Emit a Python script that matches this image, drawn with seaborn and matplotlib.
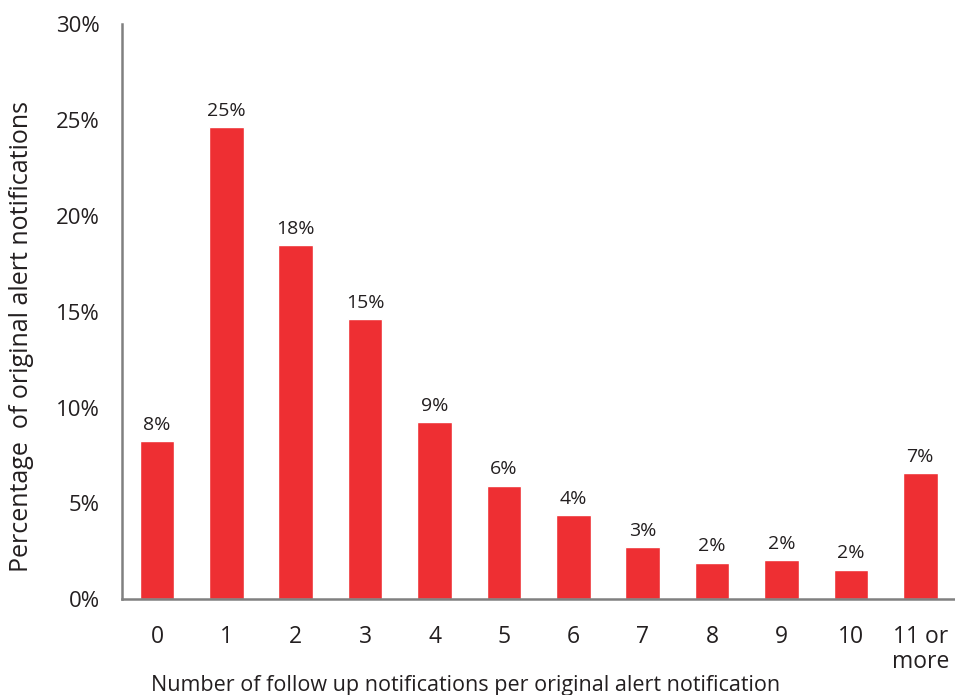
import matplotlib
matplotlib.use("Agg")
import matplotlib.pyplot as plt
import seaborn as sns
import pandas as pd

# Values
categories = ["0", "1", "2", "3", "4", "5", "6", "7", "8", "9", "10", "11 or\nmore"]
percentages = [8.24, 24.62, 18.47, 14.6, 9.23, 5.9, 4.38, 2.71, 1.88, 2.03, 1.51, 6.57]

df = pd.DataFrame({"followups": categories, "pct": percentages})

sns.set_style("white")
plt.rcParams["font.family"] = ["Open Sans", "DejaVu Sans"]

fig = plt.figure(figsize=(9.55, 6.95), dpi=100)
ax = fig.add_axes([0.128, 0.138, 0.872, 0.827])

sns.barplot(data=df, x="followups", y="pct", color="#EE2F33", saturation=1,
            width=0.5, ax=ax)

for i, v in enumerate(percentages):
    ax.text(i, v + 0.4, f"{v:.0f}%", ha="center", va="bottom", fontsize=14,
            color="#231F20")

ax.set_xlim(-0.5, 11.5)
ax.set_ylim(0, 30)
ax.set_yticks(range(0, 31, 5))
ax.set_yticklabels([f"{t}%" for t in range(0, 31, 5)])

for s in ["top", "right"]:
    ax.spines[s].set_visible(False)
for s in ["left", "bottom"]:
    ax.spines[s].set_color("#808080")
    ax.spines[s].set_linewidth(1.8)

ax.tick_params(axis="y", direction="in", length=6, width=1.5, color="#808080",
               labelsize=16, labelcolor="#231F20", pad=16)
ax.tick_params(axis="x", length=0, labelsize=16.5, labelcolor="#231F20", pad=19)
for lbl in ax.get_xticklabels():
    lbl.set_linespacing(1.05)

ax.set_xlabel("Number of follow up notifications per original alert notification",
              fontsize=15.5, color="#231F20")
ax.xaxis.set_label_coords(0.412, -0.132)
ax.set_ylabel("Percentage  of original alert notifications", fontsize=18,
              color="#231F20")
ax.yaxis.set_label_coords(-0.106, 0.457)

fig.savefig("out.png", dpi=100)
